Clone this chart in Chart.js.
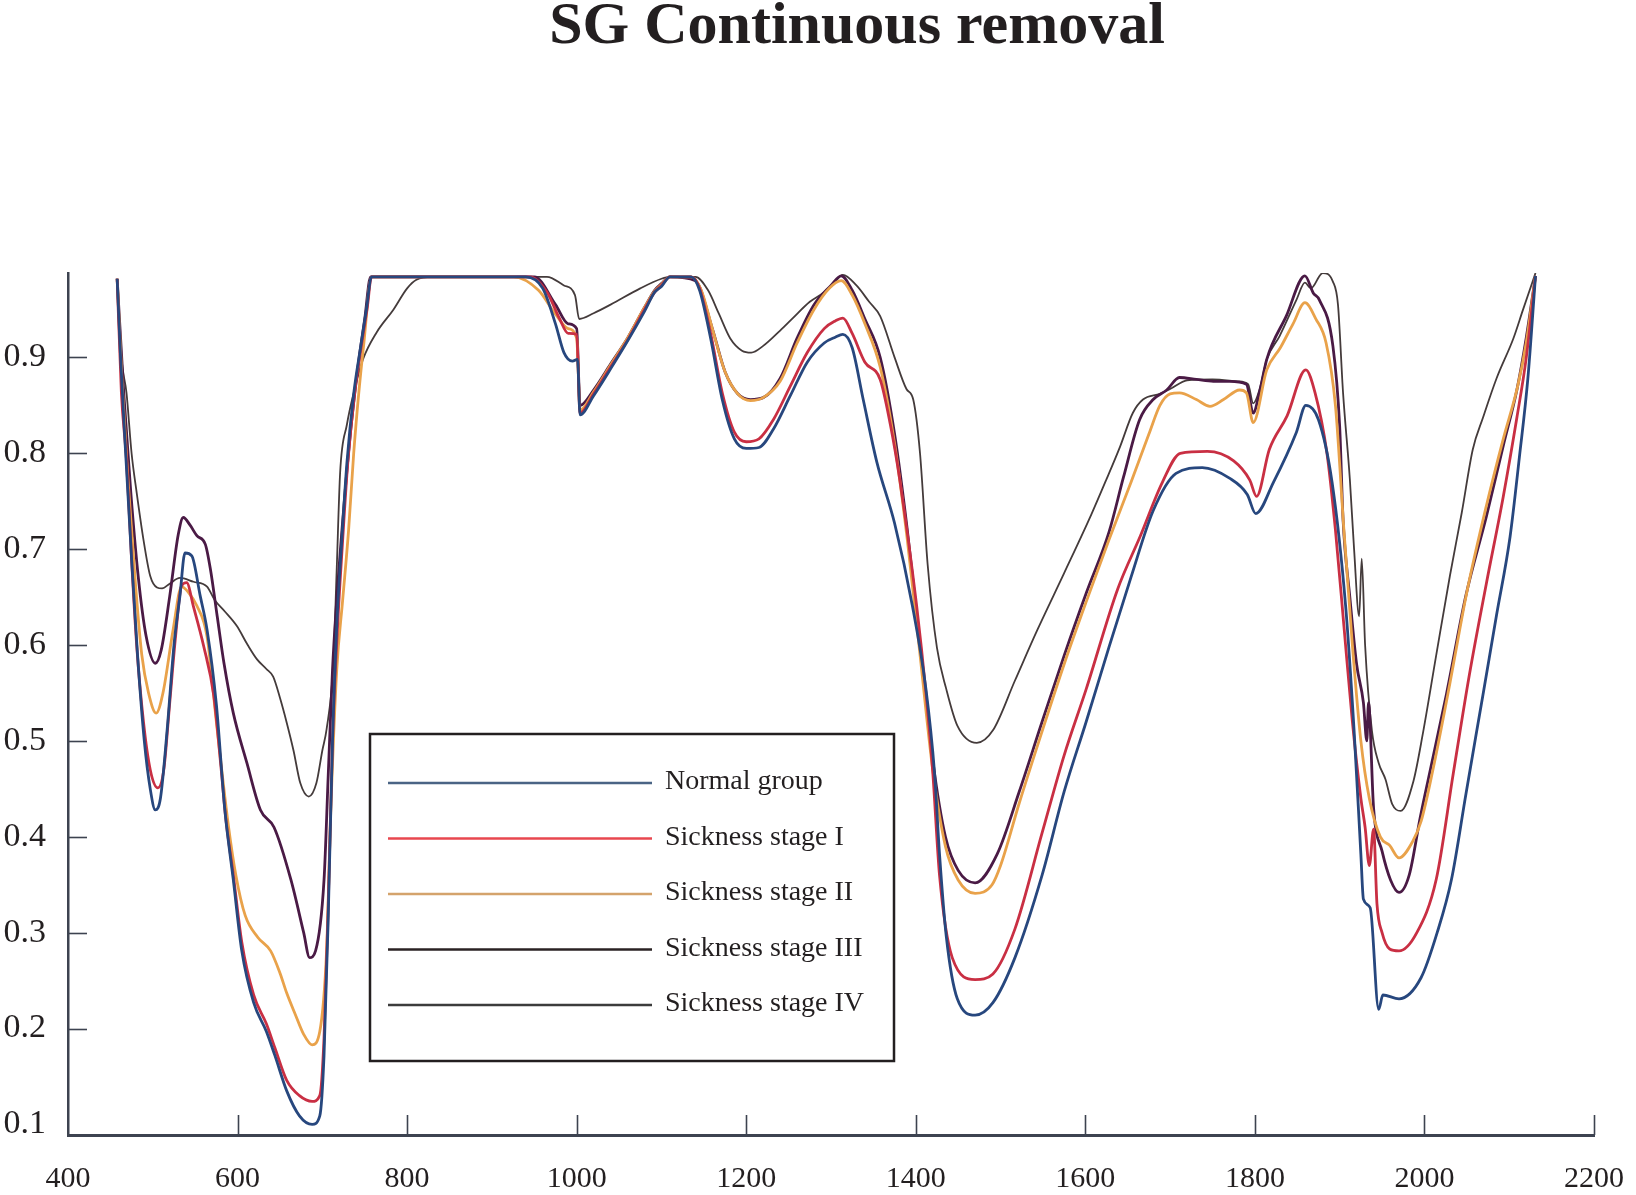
<!DOCTYPE html>
<html><head><meta charset="utf-8">
<script src="https://cdn.jsdelivr.net/npm/chart.js@4.4.1/dist/chart.umd.min.js"></script>
<style>html,body{margin:0;padding:0;background:#fff;}#wrap{width:1636px;height:1195px;}</style>
</head><body><div id="wrap"><canvas id="c" width="1636" height="1195"></canvas></div>
<script>
const chartTitle = 'SG Continuous removal';
const seriesNames = ['Normal group','Sickness stage I','Sickness stage II','Sickness stage III','Sickness stage IV'];
const xTickValues = [400,600,800,1000,1200,1400,1600,1800,2000,2200];
const yTickValues = [0.1,0.2,0.3,0.4,0.5,0.6,0.7,0.8,0.9];

const normalGroup = [[458,0.982],[462,0.90],[468,0.80],[475,0.69],[482,0.59],[490,0.50],[497,0.45],[503,0.428],[509,0.44],[517,0.512],[525,0.60],[532,0.651],[538,0.696],[546,0.693],[556,0.651],[564,0.616],[575,0.538],[585,0.428],[595,0.355],[605,0.281],[619,0.227],[634,0.197],[644,0.172],[658,0.135],[673,0.109],[688,0.100],[697,0.109],[702,0.172],[707,0.318],[712,0.50],[717,0.62],[723,0.71],[729,0.79],[737,0.862],[745,0.91],[752,0.95],[758,0.984],[940,0.984],[960,0.972],[975,0.935],[985,0.905],[995,0.896],[1001,0.898],[1004,0.84],[1020,0.86],[1040,0.888],[1060,0.917],[1080,0.948],[1092,0.968],[1100,0.974],[1110,0.984],[1135,0.984],[1145,0.97],[1158,0.92],[1172,0.855],[1186,0.815],[1200,0.805],[1215,0.806],[1232,0.825],[1252,0.86],[1272,0.895],[1292,0.915],[1305,0.921],[1314,0.924],[1325,0.91],[1338,0.856],[1354,0.791],[1375,0.727],[1396,0.641],[1412,0.554],[1422,0.468],[1428,0.382],[1436,0.296],[1449,0.231],[1470,0.214],[1491,0.227],[1517,0.274],[1549,0.36],[1575,0.447],[1601,0.52],[1628,0.598],[1654,0.671],[1680,0.74],[1707,0.779],[1738,0.785],[1770,0.774],[1791,0.757],[1801,0.737],[1822,0.77],[1849,0.822],[1860,0.85],[1875,0.835],[1891,0.77],[1907,0.641],[1917,0.511],[1925,0.382],[1928,0.335],[1936,0.326],[1946,0.22],[1951,0.235],[1970,0.231],[1996,0.253],[2015,0.30],[2032,0.356],[2049,0.445],[2069,0.548],[2085,0.631],[2101,0.713],[2112,0.796],[2122,0.878],[2131,0.985]];

const stageI = [[458,0.982],[463,0.863],[469,0.793],[475,0.689],[481,0.6],[489,0.52],[497,0.47],[506,0.451],[513,0.47],[520,0.54],[527,0.61],[534,0.662],[540,0.665],[548,0.64],[560,0.599],[572,0.547],[580,0.477],[586,0.42],[595,0.36],[605,0.29],[619,0.235],[634,0.205],[644,0.18],[658,0.146],[673,0.13],[688,0.124],[697,0.13],[702,0.19],[707,0.33],[712,0.5],[718,0.62],[724,0.71],[730,0.79],[738,0.862],[746,0.912],[753,0.952],[758,0.984],[945,0.984],[965,0.968],[980,0.94],[990,0.925],[1000,0.924],[1004,0.842],[1020,0.862],[1040,0.89],[1060,0.918],[1080,0.95],[1092,0.968],[1100,0.975],[1110,0.984],[1135,0.984],[1145,0.972],[1158,0.925],[1172,0.862],[1186,0.822],[1200,0.812],[1215,0.815],[1232,0.835],[1252,0.87],[1272,0.905],[1292,0.93],[1305,0.938],[1314,0.941],[1325,0.925],[1340,0.895],[1358,0.877],[1370,0.83],[1381,0.773],[1401,0.641],[1412,0.55],[1420,0.468],[1428,0.36],[1443,0.274],[1470,0.251],[1491,0.257],[1517,0.304],[1549,0.404],[1575,0.485],[1601,0.554],[1638,0.658],[1665,0.714],[1691,0.77],[1712,0.80],[1744,0.802],[1775,0.792],[1794,0.772],[1802,0.755],[1817,0.804],[1838,0.839],[1860,0.887],[1871,0.863],[1885,0.80],[1895,0.72],[1905,0.62],[1915,0.52],[1925,0.44],[1930,0.41],[1935,0.37],[1940,0.408],[1944,0.33],[1950,0.30],[1959,0.283],[1970,0.281],[1991,0.30],[2014,0.356],[2034,0.466],[2053,0.569],[2073,0.664],[2093,0.755],[2109,0.837],[2120,0.899],[2131,0.985]];

const stageII = [[458,0.982],[464,0.87],[471,0.77],[479,0.67],[487,0.59],[495,0.55],[504,0.529],[512,0.55],[524,0.616],[534,0.661],[542,0.655],[552,0.641],[564,0.609],[575,0.52],[589,0.413],[598,0.36],[609,0.318],[624,0.295],[639,0.281],[650,0.258],[658,0.237],[668,0.215],[678,0.194],[688,0.183],[697,0.197],[705,0.281],[710,0.428],[717,0.574],[724,0.647],[731,0.72],[737,0.80],[743,0.863],[749,0.915],[758,0.984],[925,0.984],[955,0.97],[975,0.945],[990,0.93],[1000,0.92],[1004,0.845],[1020,0.864],[1040,0.892],[1060,0.92],[1080,0.952],[1092,0.969],[1100,0.976],[1110,0.984],[1135,0.984],[1147,0.97],[1160,0.93],[1175,0.885],[1190,0.862],[1205,0.855],[1220,0.858],[1240,0.875],[1260,0.915],[1280,0.95],[1298,0.972],[1312,0.98],[1325,0.965],[1340,0.935],[1358,0.89],[1375,0.81],[1390,0.71],[1405,0.59],[1420,0.47],[1435,0.39],[1450,0.355],[1470,0.341],[1490,0.35],[1500,0.37],[1522,0.435],[1549,0.51],[1575,0.58],[1601,0.645],[1628,0.71],[1654,0.77],[1675,0.82],[1688,0.85],[1700,0.862],[1711,0.863],[1731,0.856],[1747,0.849],[1763,0.856],[1782,0.866],[1790,0.863],[1798,0.832],[1814,0.887],[1830,0.91],[1845,0.935],[1859,0.957],[1872,0.94],[1884,0.915],[1895,0.85],[1905,0.72],[1915,0.6],[1925,0.5],[1935,0.44],[1948,0.40],[1959,0.391],[1970,0.378],[1986,0.395],[1996,0.416],[2010,0.47],[2030,0.56],[2050,0.655],[2073,0.745],[2093,0.815],[2110,0.87],[2120,0.915],[2131,0.985]];

const stageIII = [[458,0.982],[466,0.86],[474,0.76],[483,0.67],[492,0.61],[503,0.581],[510,0.595],[520,0.651],[530,0.715],[536,0.733],[544,0.725],[552,0.714],[562,0.705],[568,0.679],[576,0.63],[584,0.581],[595,0.529],[611,0.477],[627,0.428],[643,0.41],[663,0.355],[678,0.30],[685,0.274],[692,0.281],[702,0.355],[707,0.465],[712,0.574],[717,0.647],[725,0.74],[733,0.82],[742,0.89],[750,0.94],[757,0.984],[950,0.984],[975,0.955],[990,0.935],[1000,0.93],[1004,0.85],[1020,0.866],[1040,0.893],[1060,0.92],[1080,0.952],[1092,0.97],[1100,0.977],[1110,0.984],[1140,0.98],[1160,0.93],[1175,0.885],[1190,0.862],[1205,0.856],[1220,0.858],[1240,0.878],[1260,0.92],[1280,0.955],[1300,0.975],[1312,0.985],[1325,0.97],[1340,0.94],[1358,0.90],[1375,0.82],[1390,0.72],[1405,0.60],[1420,0.48],[1435,0.40],[1450,0.365],[1470,0.352],[1496,0.382],[1522,0.447],[1549,0.52],[1575,0.589],[1601,0.654],[1628,0.718],[1645,0.775],[1664,0.835],[1680,0.856],[1696,0.866],[1711,0.879],[1731,0.877],[1751,0.875],[1770,0.875],[1790,0.872],[1798,0.842],[1806,0.866],[1814,0.898],[1837,0.943],[1859,0.985],[1869,0.967],[1876,0.96],[1892,0.912],[1900,0.828],[1904,0.731],[1912,0.65],[1920,0.58],[1928,0.54],[1932,0.5],[1934,0.54],[1940,0.43],[1950,0.385],[1960,0.355],[1970,0.342],[1982,0.36],[1995,0.42],[2006,0.466],[2026,0.549],[2049,0.652],[2073,0.734],[2093,0.808],[2109,0.866],[2120,0.92],[2131,0.985]];

const stageIV = [[458,0.982],[463,0.9],[469,0.863],[475,0.80],[481,0.759],[489,0.71],[497,0.672],[505,0.66],[511,0.659],[520,0.664],[532,0.67],[548,0.666],[564,0.661],[573,0.647],[585,0.635],[599,0.62],[612,0.60],[623,0.585],[634,0.575],[642,0.567],[650,0.545],[658,0.519],[666,0.49],[674,0.456],[684,0.442],[693,0.456],[700,0.49],[705,0.512],[713,0.581],[717,0.68],[721,0.78],[729,0.83],[737,0.863],[748,0.898],[764,0.926],[784,0.95],[800,0.972],[811,0.981],[830,0.984],[965,0.984],[985,0.975],[998,0.965],[1003,0.94],[1020,0.946],[1040,0.955],[1075,0.972],[1100,0.982],[1110,0.984],[1140,0.984],[1155,0.97],[1168,0.945],[1181,0.92],[1195,0.907],[1206,0.905],[1220,0.912],[1240,0.928],[1255,0.941],[1275,0.958],[1292,0.968],[1304,0.978],[1314,0.986],[1330,0.975],[1345,0.958],[1358,0.943],[1375,0.9],[1389,0.867],[1397,0.856],[1405,0.8],[1414,0.684],[1425,0.597],[1436,0.554],[1449,0.516],[1472,0.498],[1491,0.511],[1517,0.563],[1543,0.615],[1575,0.675],[1607,0.736],[1625,0.773],[1641,0.807],[1656,0.842],[1668,0.856],[1688,0.862],[1700,0.867],[1720,0.876],[1750,0.877],[1780,0.875],[1792,0.872],[1798,0.852],[1806,0.868],[1814,0.898],[1829,0.922],[1849,0.96],[1859,0.978],[1866,0.972],[1880,0.988],[1892,0.979],[1898,0.955],[1904,0.863],[1912,0.773],[1917,0.70],[1923,0.63],[1926,0.69],[1930,0.6],[1938,0.511],[1946,0.477],[1954,0.46],[1962,0.434],[1972,0.427],[1987,0.458],[1998,0.507],[2014,0.59],[2030,0.672],[2044,0.738],[2057,0.804],[2069,0.837],[2085,0.878],[2105,0.92],[2116,0.949],[2131,0.988]];

const seriesData = [normalGroup, stageI, stageII, stageIII, stageIV];
const lineColors = ['#27477e','#c92f43','#e9a24a','#4a1a45','#443b3b'];
const lineWidths = [2.8,2.8,2.8,2.8,1.8];
const legendColors = ['#4a6485','#e8474f','#d4a36c','#2a2223','#3c3c3c'];
const axisColor = '#3d4350';
const textColor = '#231f20';

const innerTicks = {
  id: 'innerTicks',
  afterDraw(chart) {
    const {ctx, chartArea: a, scales: {x, y}} = chart;
    ctx.save();
    ctx.strokeStyle = axisColor;
    ctx.lineWidth = 1.6;
    x.ticks.forEach(t => {
      if (t.value === 400) return;
      const px = Math.round(x.getPixelForValue(t.value)) + 0.5;
      ctx.beginPath(); ctx.moveTo(px, a.bottom); ctx.lineTo(px, a.bottom - 20); ctx.stroke();
    });
    y.ticks.forEach(t => {
      if (t.value <= 0.1) return;
      const py = Math.round(y.getPixelForValue(t.value)) + 0.5;
      ctx.beginPath(); ctx.moveTo(a.left, py); ctx.lineTo(a.left + 19, py); ctx.stroke();
    });
    ctx.restore();
  }
};

const titleAndLegend = {
  id: 'titleAndLegend',
  afterDraw(chart) {
    const ctx = chart.ctx;
    ctx.save();
    ctx.fillStyle = textColor;
    ctx.font = 'bold 60px "Liberation Serif", "DejaVu Serif", serif';
    ctx.textAlign = 'center';
    ctx.textBaseline = 'alphabetic';
    ctx.fillText(chartTitle, 857, 43);
    ctx.fillStyle = '#ffffff';
    ctx.fillRect(370, 734, 524, 327);
    ctx.strokeStyle = textColor;
    ctx.lineWidth = 2.5;
    ctx.strokeRect(370, 734, 524, 327);
    ctx.font = '28px "Liberation Serif", "DejaVu Serif", serif';
    ctx.textAlign = 'left';
    ctx.textBaseline = 'middle';
    seriesNames.forEach((name, i) => {
      const yy = 783 + i * 55.5;
      ctx.strokeStyle = legendColors[i];
      ctx.lineWidth = 2.6;
      ctx.beginPath(); ctx.moveTo(388, yy); ctx.lineTo(652, yy); ctx.stroke();
      ctx.fillStyle = textColor;
      ctx.fillText(name, 665, yy - 1);
    });
    ctx.restore();
  }
};

new Chart(document.getElementById('c'), {
  type: 'line',
  data: {
    datasets: seriesNames.map((name, i) => ({
      label: name,
      data: seriesData[i],
      borderColor: lineColors[i],
      backgroundColor: lineColors[i],
      borderWidth: lineWidths[i],
      pointRadius: 0,
      fill: false,
      cubicInterpolationMode: 'monotone'
    }))
  },
  options: {
    animation: false,
    responsive: false,
    devicePixelRatio: 1,
    layout: {padding: {top: 273, right: 42, bottom: 0, left: 0}},
    plugins: {legend: {display: false}, tooltip: {enabled: false}, title: {display: false}},
    scales: {
      x: {
        type: 'linear', min: 400, max: 2200,
        afterBuildTicks: s => { s.ticks = xTickValues.map(v => ({value: v})); },
        afterFit: s => { s.height = 60; },
        grid: {display: false, drawTicks: false},
        border: {display: true, color: axisColor, width: 3},
        ticks: {font: {family: 'Liberation Serif', size: 30, lineHeight: 2.93}, color: textColor, padding: 0, maxRotation: 0, autoSkip: false, callback: v => String(v)}
      },
      y: {
        type: 'linear', min: 0.089, max: 0.988,
        afterBuildTicks: s => { s.ticks = yTickValues.map(v => ({value: v})); },
        afterFit: s => { s.width = 68; },
        grid: {display: false, drawTicks: false},
        border: {display: true, color: axisColor, width: 2.5},
        ticks: {font: {family: 'Liberation Serif', size: 34}, color: textColor, padding: 22, autoSkip: false, callback: v => Number(v).toFixed(1)}
      }
    }
  },
  plugins: [innerTicks, titleAndLegend]
});
</script></body></html>
